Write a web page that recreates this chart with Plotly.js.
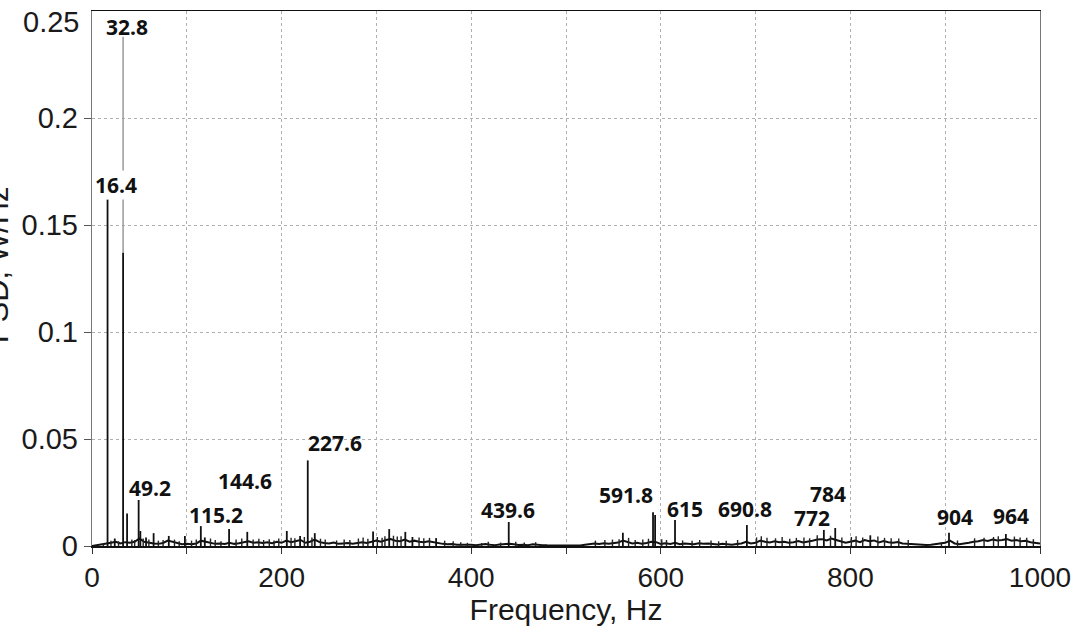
<!DOCTYPE html>
<html>
<head>
<meta charset="utf-8">
<script src="https://cdn.plot.ly/plotly-3.0.1.min.js"></script>
<style>html,body{margin:0;padding:0;background:#fff;}#chart{width:1079px;height:630px;}</style>
</head>
<body>
<div id="chart"></div>
<script>
// Broadband noise floor of the PSD, read every 5 Hz (W/Hz)
const floorFreq = [0,5,10,15,20,25,30,35,40,45,50,55,60,65,70,75,80,85,90,95,
100,105,110,115,120,125,130,135,140,145,150,155,160,165,170,175,180,185,190,195,
200,205,210,215,220,225,230,235,240,245,250,255,260,265,270,275,280,285,290,295,
300,305,310,315,320,325,330,335,340,345,350,355,360,365,370,375,380,385,390,395,
400,405,410,415,420,425,430,435,440,445,450,455,460,465,470,475,480,485,490,495,
500,505,510,515,520,525,530,535,540,545,550,555,560,565,570,575,580,585,590,595,
600,605,610,615,620,625,630,635,640,645,650,655,660,665,670,675,680,685,690,695,
700,705,710,715,720,725,730,735,740,745,750,755,760,765,770,775,780,785,790,795,
800,805,810,815,820,825,830,835,840,845,850,855,860,865,870,875,880,885,890,895,
900,905,910,915,920,925,930,935,940,945,950,955,960,965,970,975,980,985,990,995,1000];
const floorPSD = [0,0.0003,0.0008,0.0010,0.0015,0.0020,0.0012,0.0018,0.0015,0.0020,0.0035,0.0020,0.0015,0.0012,0.0010,0.0014,0.0025,0.0020,0.0012,0.0008,
0.0010,0.0008,0.0012,0.0025,0.0020,0.0015,0.0010,0.0012,0.0009,0.0015,0.0010,0.0013,0.0018,0.0022,0.0015,0.0018,0.0014,0.0017,0.0013,0.0020,
0.0015,0.0025,0.0018,0.0022,0.0028,0.0015,0.0020,0.0030,0.0018,0.0014,0.0012,0.0016,0.0010,0.0012,0.0014,0.0011,0.0015,0.0018,0.0014,0.0020,
0.0025,0.0020,0.0028,0.0032,0.0025,0.0022,0.0030,0.0020,0.0025,0.0020,0.0018,0.0022,0.0018,0.0012,0.0010,0.0008,0.0009,0.0006,0.0007,0.0005,
0.0006,0.0004,0.0005,0.0009,0.0006,0.0004,0.0007,0.0009,0.0010,0.0008,0.0005,0.0006,0.0004,0.0008,0.0005,0.0004,0.0003,0.0003,0.0002,0.0003,
0.0002,0.0002,0.0003,0.0002,0.0006,0.0010,0.0012,0.0009,0.0013,0.0010,0.0014,0.0016,0.0025,0.0018,0.0012,0.0015,0.0011,0.0014,0.0020,0.0018,
0.0010,0.0013,0.0009,0.0015,0.0008,0.0012,0.0010,0.0008,0.0013,0.0010,0.0012,0.0009,0.0007,0.0011,0.0008,0.0006,0.0009,0.0012,0.0020,0.0012,
0.0015,0.0025,0.0020,0.0016,0.0022,0.0018,0.0020,0.0015,0.0018,0.0023,0.0017,0.0020,0.0025,0.0030,0.0032,0.0026,0.0035,0.0028,0.0020,0.0015,
0.0020,0.0025,0.0018,0.0028,0.0022,0.0026,0.0017,0.0023,0.0018,0.0015,0.0019,0.0012,0.0010,0.0008,0.0007,0.0006,0.0005,0.0006,0.0008,0.0012,
0.0015,0.0025,0.0012,0.0008,0.0010,0.0015,0.0020,0.0022,0.0028,0.0024,0.0030,0.0026,0.0028,0.0032,0.0025,0.0028,0.0022,0.0024,0.0018,0.0015,0.0012];

// Discrete spectral peaks (Hz, W/Hz)
const peakFreq = [16.4,24,32.8,37,49.2,51,57,65,81,98,114.8,119,144.6,163.8,205.5,219.5,227.6,235,296.5,313.5,330.5,338,363,439.6,560,591.8,594,615,690.8,772,784,821,904,964];
const peakPSD  = [0.162,0.0035,0.137,0.0152,0.0215,0.007,0.004,0.006,0.0047,0.0047,0.0093,0.004,0.008,0.0066,0.007,0.0047,0.040,0.006,0.0068,0.0079,0.0066,0.0042,0.0037,0.0112,0.0062,0.0158,0.0145,0.0121,0.0098,0.0075,0.0084,0.005,0.0062,0.0056];

// Small spikes riding on the noise floor (Hz, W/Hz)
const minorFreq = [12,20,28,42,45,54,60,70,75,87,92,105,110,125,130,136,152,158,170,176,181,187,192,197,210,214,224,232,241,246,258,266,272,281,286,291,301,306,309,318,322,326,345,350,356,372,381,389,396,411,418,431,447,456,468,531,541,549,556,566,573,581,587,601,606,623,633,641,653,661,669,681,701,706,712,721,728,736,743,751,757,765,779,791,801,806,813,829,836,843,851,861,896,913,931,941,951,956,973,979,986,993];
const minorPSD  = [0.0012,0.0025,0.0022,0.0030,0.0028,0.0035,0.0030,0.0025,0.0028,0.0030,0.0022,0.0025,0.0030,0.0035,0.0028,0.0022,0.0030,0.0035,0.0030,0.0034,0.0028,0.0032,0.0026,0.0035,0.0038,0.0036,0.0042,0.0040,0.0034,0.0030,0.0026,0.0030,0.0028,0.0035,0.0040,0.0034,0.0042,0.0038,0.0045,0.0048,0.0044,0.0046,0.0040,0.0036,0.0038,0.0025,0.0022,0.0018,0.0015,0.0014,0.0020,0.0016,0.0020,0.0016,0.0018,0.0025,0.0028,0.0030,0.0032,0.0038,0.0028,0.0030,0.0034,0.0032,0.0028,0.0026,0.0024,0.0028,0.0026,0.0022,0.0024,0.0028,0.0040,0.0045,0.0038,0.0036,0.0042,0.0034,0.0038,0.0040,0.0036,0.0050,0.0048,0.0040,0.0042,0.0045,0.0040,0.0044,0.0038,0.0036,0.0035,0.0028,0.0018,0.0026,0.0036,0.0038,0.0042,0.0045,0.0044,0.0040,0.0038,0.0032];

// Faint grey trace continuing the 32.8 Hz line
const greyFreq = [32.8, 32.8];
const greyPSD  = [0.137, 0.238];

// Peak labels
const labelText = ["32.8","16.4","49.2","115.2","144.6","227.6","439.6","591.8","615","690.8","772","784","904","964"];
const labelPosX = [37,25.3,60.7,131,161,256,439,563,625,689,760,776,910,969];
const labelPosY = [0.2425,0.1687,0.0271,0.0145,0.0304,0.0481,0.0168,0.0238,0.0173,0.0173,0.0132,0.0245,0.0136,0.014];

// Axis ticks
const yTickVals = [0, 0.05, 0.1, 0.15, 0.2, 0.25];
const yTickText = ["0", "0.05", "0.1", "0.15", "0.2", "0.25"];
const xTickVals = [0, 200, 400, 600, 800, 1000];

const spikeX = [], spikeY = [];
for (let i = 0; i < peakFreq.length; i++) {
  spikeX.push(peakFreq[i], peakFreq[i], null);
  spikeY.push(0, peakPSD[i], null);
}
const minorX = [], minorY = [];
for (let i = 0; i < minorFreq.length; i++) {
  minorX.push(minorFreq[i], minorFreq[i], null);
  minorY.push(0, minorPSD[i], null);
}

const traces = [
  {x: greyFreq, y: greyPSD, type: 'scatter', mode: 'lines', line: {color: '#9a9a9a', width: 1.5}, hoverinfo: 'skip'},
  {x: floorFreq, y: floorPSD, type: 'scatter', mode: 'lines', line: {color: '#111', width: 2}},
  {x: minorX, y: minorY, type: 'scatter', mode: 'lines', line: {color: '#222', width: 1.4}, connectgaps: false},
  {x: spikeX, y: spikeY, type: 'scatter', mode: 'lines', line: {color: '#111', width: 1.8}, connectgaps: false}
];

const annotations = labelText.map((t, i) => ({
  x: labelPosX[i], y: labelPosY[i], xref: 'x', yref: 'y', text: '<b>' + t + '</b>',
  showarrow: false, xanchor: 'center', yanchor: 'middle',
  font: {family: 'Open Sans, sans-serif', size: 21, color: '#111'},
  bgcolor: t === '16.4' ? '#ffffff' : 'rgba(0,0,0,0)', borderpad: 0
}));
// top tick label sits just below the frame edge
annotations.push({
  x: 0, y: yTickVals[yTickVals.length - 1], xref: 'paper', yref: 'y', text: yTickText[yTickText.length - 1],
  showarrow: false, xanchor: 'right', yanchor: 'middle', xshift: -11, yshift: -11,
  font: {family: 'Liberation Sans, Arial, sans-serif', size: 29, color: '#1a1a1a'}
});
// y-axis title (partially clipped at the left edge, as in the reference)
annotations.push({
  x: 0, y: 0.525, xref: 'paper', yref: 'paper', text: 'PSD, W/Hz', textangle: -90,
  showarrow: false, xanchor: 'center', yanchor: 'middle', xshift: -95,
  font: {family: 'Liberation Sans, Arial, sans-serif', size: 31, color: '#1a1a1a'}
});

const layout = {
  width: 1079, height: 630,
  margin: {l: 92, r: 39, t: 11, b: 84},
  paper_bgcolor: '#fff', plot_bgcolor: '#fff',
  showlegend: false,
  xaxis: {
    range: [0, 1000], tickvals: xTickVals, ticks: 'outside', ticklen: 6, tickcolor: '#333',
    showgrid: true, gridcolor: '#b0b0b0', griddash: 'dot', gridwidth: 1,
    minor: {dtick: 100, showgrid: true, gridcolor: '#b0b0b0', griddash: 'dot', ticks: 'outside', ticklen: 6, tickcolor: '#333'},
    showline: true, linecolor: '#111', linewidth: 1.5, mirror: true, zeroline: false,
    tickfont: {family: 'Liberation Sans, Arial, sans-serif', size: 28, color: '#1a1a1a'},
    title: {text: 'Frequency, Hz', standoff: 6, font: {family: 'Liberation Sans, Arial, sans-serif', size: 30, color: '#1a1a1a'}}
  },
  yaxis: {
    range: [0, 0.25], tickvals: yTickVals.slice(0, -1), ticktext: yTickText.slice(0, -1),
    ticks: 'outside', ticklen: 7, tickcolor: '#555',
    showgrid: true, gridcolor: '#b0b0b0', griddash: 'dot', gridwidth: 1,
    showline: true, linecolor: '#777', linewidth: 1.2, mirror: true, zeroline: false,
    tickfont: {family: 'Liberation Sans, Arial, sans-serif', size: 29, color: '#1a1a1a'}
  },
  annotations: annotations
};

Plotly.newPlot('chart', traces, layout, {displayModeBar: false, staticPlot: true});
</script>
</body>
</html>
